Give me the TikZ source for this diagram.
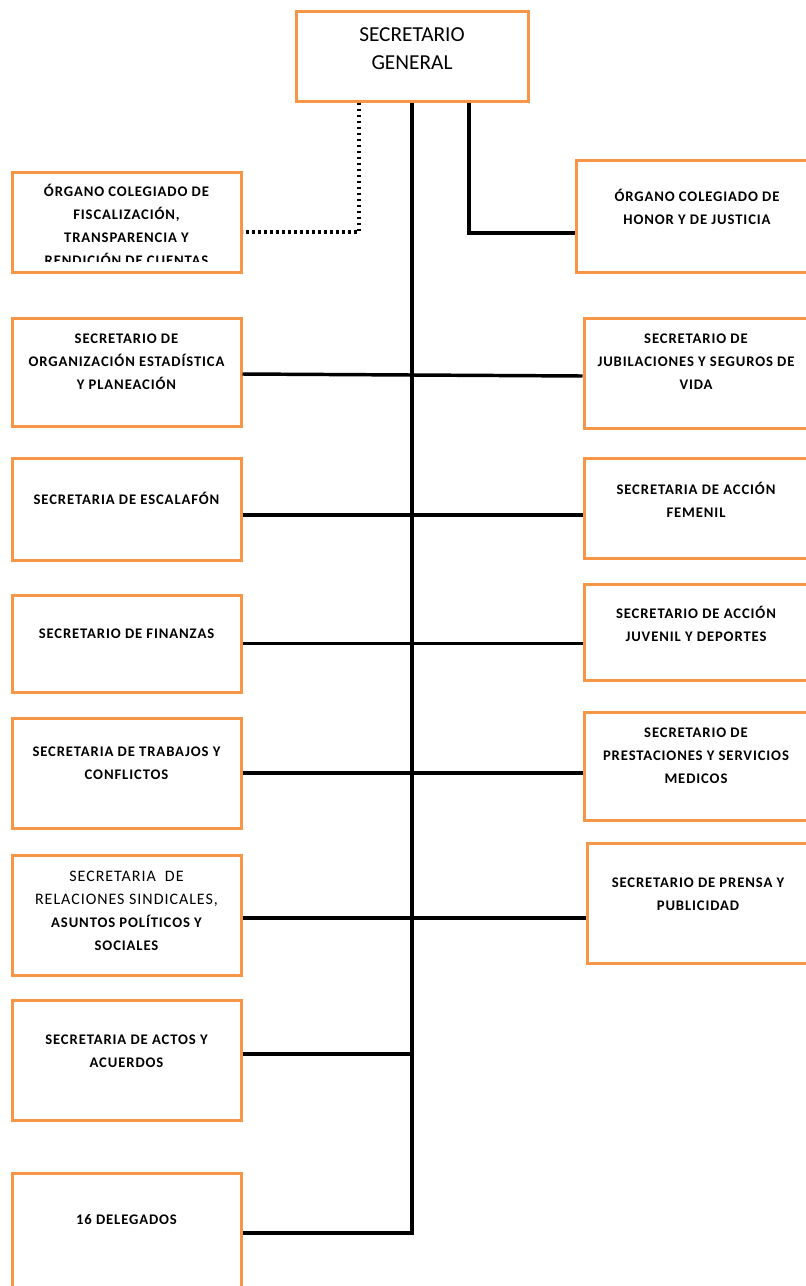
\documentclass[tikz,border=0pt]{standalone}
\usepackage{fontspec}
\setmainfont{Carlito}
\newfontfamily\cargofont[LetterSpace=6]{Carlito}
\usepackage{tikz}
\usetikzlibrary{positioning}
\definecolor{boxorange}{HTML}{F79646}

\begin{document}
\begin{tikzpicture}[x=0.75pt, y=-0.75pt,
    cargo/.style = {draw=boxorange, line width=2.25pt, inner sep=0pt},
    izq/.style = {cargo, minimum width=171.75pt},
    der/.style = {cargo, minimum width=168pt},
    cargotext/.style = {align=center, inner sep=0pt, font=\cargofont\bfseries\fontsize{11}{17.25}\selectfont},
    enlace/.style = {draw=black, line width=2.6pt},
    punteado/.style = {draw=black, line width=2.4pt, dash pattern=on 2.2pt off 2.3pt}]
      \useasboundingbox (0,0) rectangle (806,1286);

      % secretario general
      \node [cargo, minimum width=174pt, minimum height=67.5pt] (nodegen) at (412,56) {};
      \node [align=center, inner sep=0pt, font=\fontsize{16}{21}\selectfont] (textgen) at (412,49) {SECRETARIO\\GENERAL};

      % columna izquierda
      \node [izq, minimum height=75pt] (nodefisc) at (126.5,222) {};
      \begin{scope}
        \clip (12,172) rectangle (241,261);
        \node [cargotext] (textfisc) at (126.5,224.5) {ÓRGANO COLEGIADO DE\\FISCALIZACIÓN,\\TRANSPARENCIA Y\\RENDICIÓN DE CUENTAS};
      \end{scope}
      \node [izq, minimum height=81pt] (nodeorg) at (126.5,372) {};
      \node [cargotext] (textorg) at (126.5,362) {SECRETARIO DE\\ORGANIZACIÓN ESTADÍSTICA\\Y PLANEACIÓN};
      \node [izq, minimum height=76.5pt] (nodeesc) at (126.5,509) {};
      \node [cargotext] (textesc) at (126.5,498) {SECRETARIA DE ESCALAFÓN};
      \node [izq, minimum height=72.75pt] (nodefin) at (126.5,643.5) {};
      \node [cargotext] (textfin) at (126.5,634) {SECRETARIO DE FINANZAS};
      \node [izq, minimum height=82.5pt] (nodetrab) at (126.5,773) {};
      \node [cargotext] (texttrab) at (126.5,763.5) {SECRETARIA DE TRABAJOS Y\\CONFLICTOS};
      \node [izq, minimum height=90pt] (noderel) at (126.5,915) {};
      \node [cargotext] (textrel) at (126.5,911) {{\mdseries\fontsize{12}{17.25}\selectfont SECRETARIA~ DE}\\{\mdseries\fontsize{12}{17.25}\selectfont RELACIONES SINDICALES,}\\ASUNTOS POLÍTICOS Y\\SOCIALES};
      \node [izq, minimum height=90pt] (nodeactos) at (126.5,1060) {};
      \node [cargotext] (textactos) at (126.5,1051.5) {SECRETARIA DE ACTOS Y\\ACUERDOS};
      \node [izq, minimum height=90pt] (nodedeleg) at (126.5,1233) {};
      \node [cargotext] (textdeleg) at (126.5,1220) {16 DELEGADOS};

      % columna derecha
      \node [cargo, minimum width=181.5pt, minimum height=84pt] (nodehonor) at (697,216) {};
      \node [cargotext] (texthonor) at (697,206.5) {ÓRGANO COLEGIADO DE\\HONOR Y DE JUSTICIA};
      \node [der, minimum height=82.5pt] (nodejub) at (696,373) {};
      \node [cargotext] (textjub) at (696,362) {SECRETARIO DE\\JUBILACIONES Y SEGUROS DE\\VIDA};
      \node [der, minimum height=75pt] (nodefem) at (696,508) {};
      \node [cargotext] (textfem) at (696,499.5) {SECRETARIA DE ACCIÓN\\FEMENIL};
      \node [der, minimum height=72pt] (nodejuv) at (696,632) {};
      \node [cargotext] (textjuv) at (696,623.5) {SECRETARIO DE ACCIÓN\\JUVENIL Y DEPORTES};
      \node [der, minimum height=81pt] (nodeprest) at (696,766) {};
      \node [cargotext] (textprest) at (696,756) {SECRETARIO DE\\PRESTACIONES Y SERVICIOS\\MEDICOS};
      \node [cargo, minimum width=166.5pt, minimum height=90pt] (nodeprensa) at (698,903) {};
      \node [cargotext] (textprensa) at (698,894.5) {SECRETARIO DE PRENSA Y\\PUBLICIDAD};

      % lineas
      \draw [enlace] (nodegen.south) -- (nodegen.south |- nodedeleg.east) -- (nodedeleg.east);
      \draw [punteado] ([xshift=-39.75pt]nodegen.south) |- ([yshift=-7.5pt]nodefisc.east);
      \draw [enlace] ([xshift=42.75pt]nodegen.south) |- ([yshift=-12.75pt]nodehonor.west);
      \draw [enlace] ([yshift=-1.5pt]nodeorg.east) -- ([yshift=-2.25pt]nodejub.west);
      \draw [enlace] ([yshift=-4.5pt]nodeesc.east) -- ([yshift=-5.25pt]nodefem.west);
      \draw [enlace] (nodefin.east) -- (nodefin.east -| nodejuv.west);
      \draw [enlace] (nodetrab.east) -- (nodetrab.east -| nodeprest.west);
      \draw [enlace] ([yshift=-2.25pt]noderel.east) -- ([yshift=-2.25pt]noderel.east -| nodeprensa.west);
      \draw [enlace] ([yshift=4.5pt]nodeactos.east) -- ([yshift=4.5pt]nodeactos.east -| nodegen.south);

\end{tikzpicture}
\end{document}
